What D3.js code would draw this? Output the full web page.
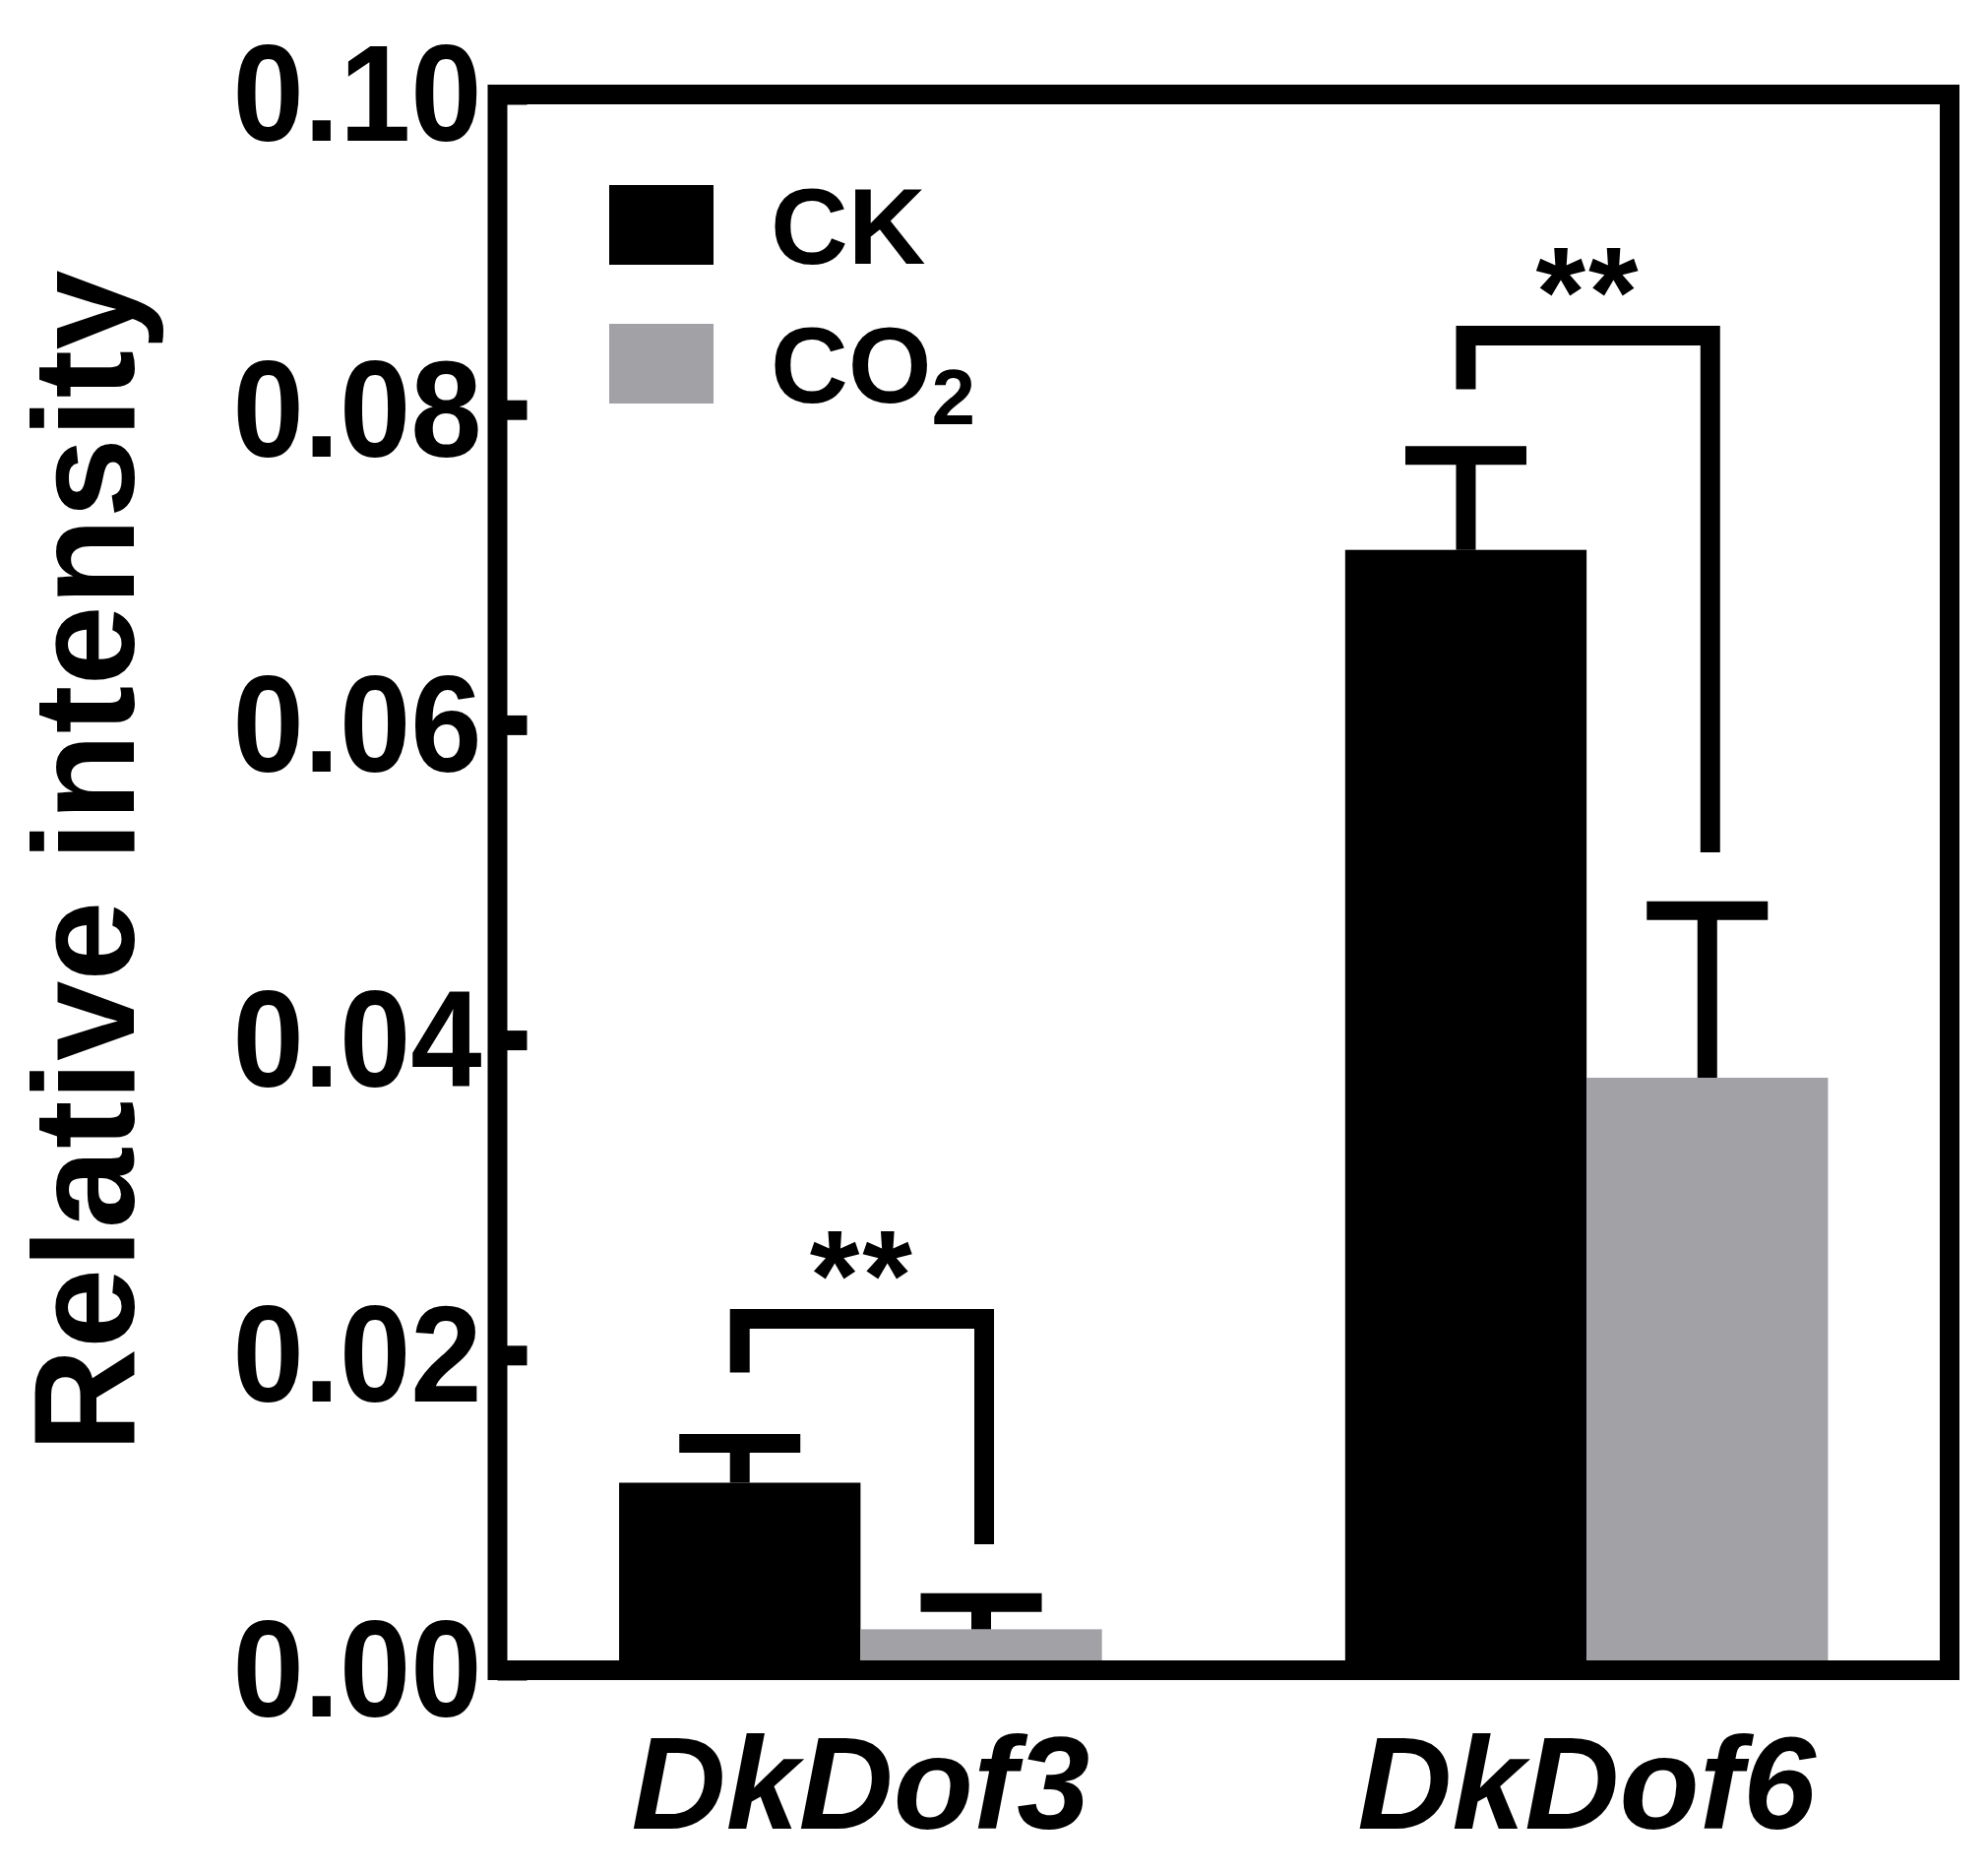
<!DOCTYPE html>
<html>
<head>
<meta charset="utf-8">
<script src="https://cdn.jsdelivr.net/npm/d3@7"></script>
<style>
    html, body { margin: 0; padding: 0; background: #fff; }
    #chart { width: 2020px; height: 1902px; }
    #chart text { font-family: 'Liberation Sans', Arial, Helvetica, sans-serif; font-weight: bold; }
</style>
</head>
<body>
<div id="chart"></div>
<script>
// Data
const genes = ['DkDof3', 'DkDof6'];
const treatments = ['CK', 'CO2'];
const ckValues = [0.0119, 0.0711];
const co2Values = [0.0026, 0.0376];
const ckErrors = [0.0025, 0.0060];
const co2Errors = [0.0017, 0.0106];
const yTicks = [0, 0.02, 0.04, 0.06, 0.08, 0.10];
const sigLabels = ['**', '**'];
const bracketTop = [0.0223, 0.0847];
const bracketLeftEnd = [0.0189, 0.0813];
const bracketRightEnd = [0.0080, 0.0519];
const treatmentColors = ['#000000', '#a2a1a6'];

/**
 * Grouped bar chart with framed axes, error caps and significance brackets
 */
class GroupedBarChart {
    /**
     * @param {string} elementId - Element ID
     * @param {Object} options - Chart options
     */
    constructor(elementId, options = {}) {
        this.elementId = elementId;
        this.options = {
            width: 2020,
            height: 1902,
            left: 505.5,
            right: 1981,
            top: 96,
            bottom: 1697,
            lineWidth: 20,
            capWidth: 123,
            ...options
        };
        this.svg = null;
    }

    /**
     * Draw the chart
     * @param {Array} rows - one row per gene
     */
    init(rows) {
        const container = document.getElementById(this.elementId);
        if (!container) return;
        container.innerHTML = '';

        const o = this.options;

        this.svg = d3.select(container)
            .append('svg')
            .attr('width', o.width)
            .attr('height', o.height);

        // Scales
        const x0 = d3.scaleBand()
            .domain(genes)
            .range([o.left, o.right])
            .paddingInner(0.335)
            .paddingOuter(0.1675);

        const x1 = d3.scaleBand()
            .domain(treatments)
            .range([0, x0.bandwidth()]);

        const y = d3.scaleLinear()
            .domain([0, 0.1])
            .range([o.bottom, o.top]);

        const color = d3.scaleOrdinal()
            .domain(treatments)
            .range(treatmentColors);

        // Bars
        const group = this.svg.append('g')
            .selectAll('g')
            .data(rows)
            .enter()
            .append('g')
            .attr('transform', d => `translate(${x0(d.gene)},0)`);

        group.selectAll('rect')
            .data(d => d.values)
            .enter()
            .append('rect')
            .attr('x', d => x1(d.key))
            .attr('y', d => y(d.value))
            .attr('width', x1.bandwidth())
            .attr('height', d => y(0) - y(d.value))
            .style('fill', d => color(d.key));

        // Error bars (upper only)
        const err = group.selectAll('g.err')
            .data(d => d.values)
            .enter()
            .append('g')
            .attr('class', 'err');

        err.append('line')
            .attr('x1', d => x1(d.key) + x1.bandwidth() / 2)
            .attr('x2', d => x1(d.key) + x1.bandwidth() / 2)
            .attr('y1', d => y(d.value))
            .attr('y2', d => y(d.value + d.error))
            .style('stroke', '#000')
            .style('stroke-width', o.lineWidth);

        err.append('line')
            .attr('x1', d => x1(d.key) + x1.bandwidth() / 2 - o.capWidth / 2)
            .attr('x2', d => x1(d.key) + x1.bandwidth() / 2 + o.capWidth / 2)
            .attr('y1', d => y(d.value + d.error))
            .attr('y2', d => y(d.value + d.error))
            .style('stroke', '#000')
            .style('stroke-width', o.lineWidth - 1);

        // Significance brackets
        const line = d3.line();
        group.append('path')
            .attr('d', d => line([
                [x1('CK') + x1.bandwidth() / 2, y(d.bracket.left)],
                [x1('CK') + x1.bandwidth() / 2, y(d.bracket.top)],
                [x1('CO2') + x1.bandwidth() / 2 + 3, y(d.bracket.top)],
                [x1('CO2') + x1.bandwidth() / 2 + 3, y(d.bracket.right)]
            ]))
            .style('fill', 'none')
            .style('stroke', '#000')
            .style('stroke-width', o.lineWidth)
            .style('stroke-linejoin', 'miter')
            .style('stroke-linecap', 'butt');

        group.append('text')
            .attr('x', x0.bandwidth() / 2 + 2)
            .attr('y', d => y(d.bracket.top) + 1)
            .style('text-anchor', 'middle')
            .style('font-size', '130px')
            .style('letter-spacing', '3px')
            .text(d => d.sig);

        // Frame
        this.svg.append('rect')
            .attr('x', o.left)
            .attr('y', o.top)
            .attr('width', o.right - o.left)
            .attr('height', o.bottom - o.top)
            .style('fill', 'none')
            .style('stroke', '#000')
            .style('stroke-width', o.lineWidth)
            .style('stroke-linejoin', 'miter');

        // Y axis, ticks pointing inward
        const yAxis = this.svg.append('g')
            .attr('transform', `translate(${o.left},0)`)
            .call(d3.axisLeft(y)
                .tickValues(yTicks)
                .tickSize(-30)
                .tickPadding(16)
                .tickFormat(d3.format('.2f')));

        yAxis.select('.domain').remove();
        yAxis.selectAll('.tick line')
            .style('stroke', '#000')
            .style('stroke-width', o.lineWidth);
        yAxis.selectAll('.tick text')
            .attr('dy', '0.335em')
            .attr('textLength', 253)
            .attr('lengthAdjust', 'spacingAndGlyphs')
            .style('font-size', '140px')
            .style('fill', '#000');

        // X axis labels
        const xAxis = this.svg.append('g')
            .attr('transform', `translate(0,${o.bottom})`)
            .call(d3.axisBottom(x0).tickSize(0).tickPadding(67));

        xAxis.select('.domain').remove();
        xAxis.selectAll('.tick text')
            .style('font-size', '133px')
            .style('font-style', 'italic')
            .style('fill', '#000');

        // Y axis title
        this.svg.append('text')
            .attr('transform', 'translate(136,875) rotate(-90)')
            .style('text-anchor', 'middle')
            .style('font-size', '146px')
            .text('Relative intensity');

        // Legend
        const legend = this.svg.append('g')
            .selectAll('g')
            .data(treatments)
            .enter()
            .append('g')
            .attr('transform', (d, i) => `translate(619,${188 + i * 141})`);

        legend.append('rect')
            .attr('width', 106)
            .attr('height', 81)
            .style('fill', d => color(d));

        const legendText = legend.append('text')
            .attr('x', 164)
            .attr('y', 80)
            .style('font-size', '109px');

        legendText.append('tspan')
            .text(d => d === 'CO2' ? 'CO' : d);

        legendText.filter(d => d === 'CO2')
            .append('tspan')
            .attr('dy', 22)
            .style('font-size', '80px')
            .text('2');
    }
}

const rows = genes.map((gene, i) => ({
    gene: gene,
    sig: sigLabels[i],
    bracket: { top: bracketTop[i], left: bracketLeftEnd[i], right: bracketRightEnd[i] },
    values: [
        { key: 'CK', value: ckValues[i], error: ckErrors[i] },
        { key: 'CO2', value: co2Values[i], error: co2Errors[i] }
    ]
}));

const chart = new GroupedBarChart('chart');
chart.init(rows);
</script>
</body>
</html>
